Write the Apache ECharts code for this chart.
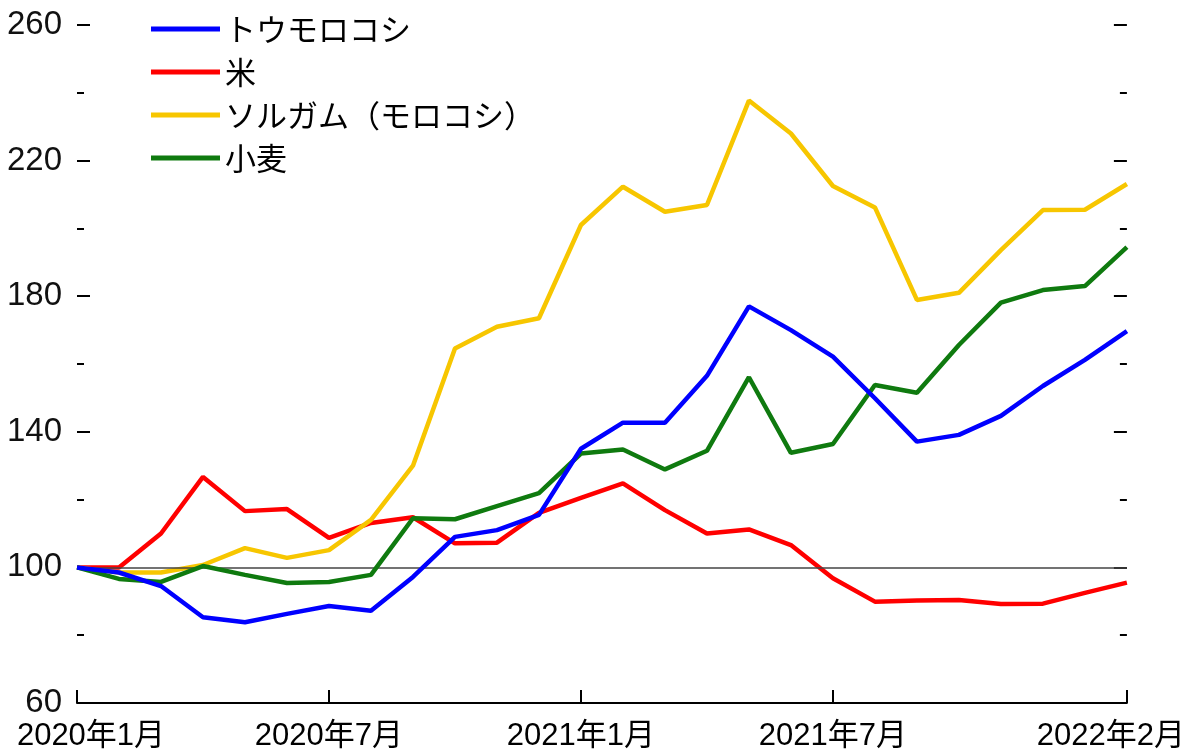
<!DOCTYPE html>
<html>
<head>
<meta charset="utf-8">
<script src="https://cdn.jsdelivr.net/npm/echarts@6/dist/echarts.min.js"></script>
<style>
  html, body { margin: 0; padding: 0; background: #fff; }
  #chart { width: 1188px; height: 752px; }
</style>
</head>
<body>
<div id="chart"></div>
<script>
// months 2020年1月 .. 2022年2月
const months = [
  '2020年1月', '2020年2月', '2020年3月', '2020年4月', '2020年5月', '2020年6月',
  '2020年7月', '2020年8月', '2020年9月', '2020年10月', '2020年11月', '2020年12月',
  '2021年1月', '2021年2月', '2021年3月', '2021年4月', '2021年5月', '2021年6月',
  '2021年7月', '2021年8月', '2021年9月', '2021年10月', '2021年11月', '2021年12月',
  '2022年1月', '2022年2月'
]
const labelIdx = [0, 6, 12, 18, 25]

const corn = [100, 98.5, 94.5, 85.3, 83.8, 86.3, 88.6, 87.2, 97.2, 109, 111, 115.5, 135,
  142.7, 142.7, 156.5, 177, 170, 162.2, 149.9, 137.1, 139.1, 144.7, 153.5, 161.2, 169.7]
const rice = [100, 100, 110, 126.7, 116.6, 117.2, 108.7, 113.1, 114.8, 107.1, 107.3, 116.1, 120.5,
  124.8, 116.9, 110, 111.2, 106.6, 96.8, 89.9, 90.2, 90.4, 89.2, 89.3, 92.5, 95.5]
const sorghum = [100, 98.5, 98.5, 100.7, 105.7, 102.8, 105.1, 114, 130, 164.6, 171, 173.5, 201,
  212.3, 204.9, 206.9, 237.7, 228, 212.5, 206.2, 178.9, 181, 193.6, 205.4, 205.5, 213.1]
const wheat = [100, 96.6, 95.7, 100.4, 97.8, 95.4, 95.7, 97.8, 114.5, 114.2, 118.1, 121.9, 133.6,
  134.8, 128.9, 134.4, 156.1, 133.8, 136.4, 153.8, 151.5, 165.6, 178.1, 181.8, 183, 194.5]

const names = ['トウモロコシ', '米', 'ソルガム（モロコシ）', '小麦']
const colors = ['#0000ff', '#ff0000', '#f7c600', '#0f7a0f']

const numFont = "'Liberation Sans', Arial, 'Noto Sans CJK JP', sans-serif"
const jpFont = "'Noto Sans CJK JP', sans-serif"

const yAxisBase = (pos) => ({
  type: 'value',
  position: pos,
  min: 60,
  max: 260,
  interval: 40,
  axisLine: { show: false },
  splitLine: { show: false },
  axisTick: { show: true, inside: true, length: 13, lineStyle: { color: '#000', width: 2 } },
  minorTick: { show: true, splitNumber: 2, length: 7, lineStyle: { color: '#000', width: 2 } },
  minorSplitLine: { show: false }
})

const chart = echarts.init(document.getElementById('chart'))
chart.setOption({
  animation: false,
  backgroundColor: '#fff',
  grid: { left: 77, right: 60, top: 25, bottom: 49, containLabel: false },
  legend: {
    orient: 'vertical',
    left: 146,
    top: 8,
    itemWidth: 69,
    itemHeight: 5,
    itemGap: 11,
    icon: 'rect',
    textStyle: { fontFamily: jpFont, fontSize: 31, color: '#000', lineHeight: 32 },
    data: names
  },
  xAxis: {
    type: 'category',
    boundaryGap: false,
    data: months,
    axisLine: { lineStyle: { color: '#000', width: 2 } },
    axisTick: {
      inside: true, length: 13,
      interval: (i) => labelIdx.includes(i),
      lineStyle: { color: '#000', width: 2 }
    },
    axisLabel: {
      interval: (i) => labelIdx.includes(i),
      margin: 18,
      fontFamily: numFont,
      fontSize: 31,
      color: '#000',
      formatter: (v, i) => i === 0 ? '{a|' + v + '}' : (i === 25 ? '{b|' + v + '}' : v),
      rich: {
        a: { fontFamily: numFont, fontSize: 31, color: '#000', padding: [0, 0, 0, 28] },
        b: { fontFamily: numFont, fontSize: 31, color: '#000', padding: [0, 32, 0, 0] }
      }
    }
  },
  yAxis: [
    Object.assign(yAxisBase('left'), {
      axisLabel: { margin: 15, fontFamily: numFont, fontSize: 33, color: '#111' }
    }),
    Object.assign(yAxisBase('right'), { axisLabel: { show: false } })
  ],
  series: [
    { name: names[0], type: 'line', data: corn, z: 6 },
    { name: names[1], type: 'line', data: rice, z: 3 },
    { name: names[2], type: 'line', data: sorghum, z: 4 },
    {
      name: names[3], type: 'line', data: wheat, z: 5,
      markLine: {
        silent: true,
        symbol: 'none',
        label: { show: false },
        lineStyle: { color: '#444', width: 1.5, type: 'solid' },
        data: [{ yAxis: 100 }]
      }
    }
  ].map((s, k) => Object.assign(s, {
    symbol: 'none',
    color: colors[k],
    lineStyle: { width: 4.5, color: colors[k] }
  }))
})
</script>
</body>
</html>
